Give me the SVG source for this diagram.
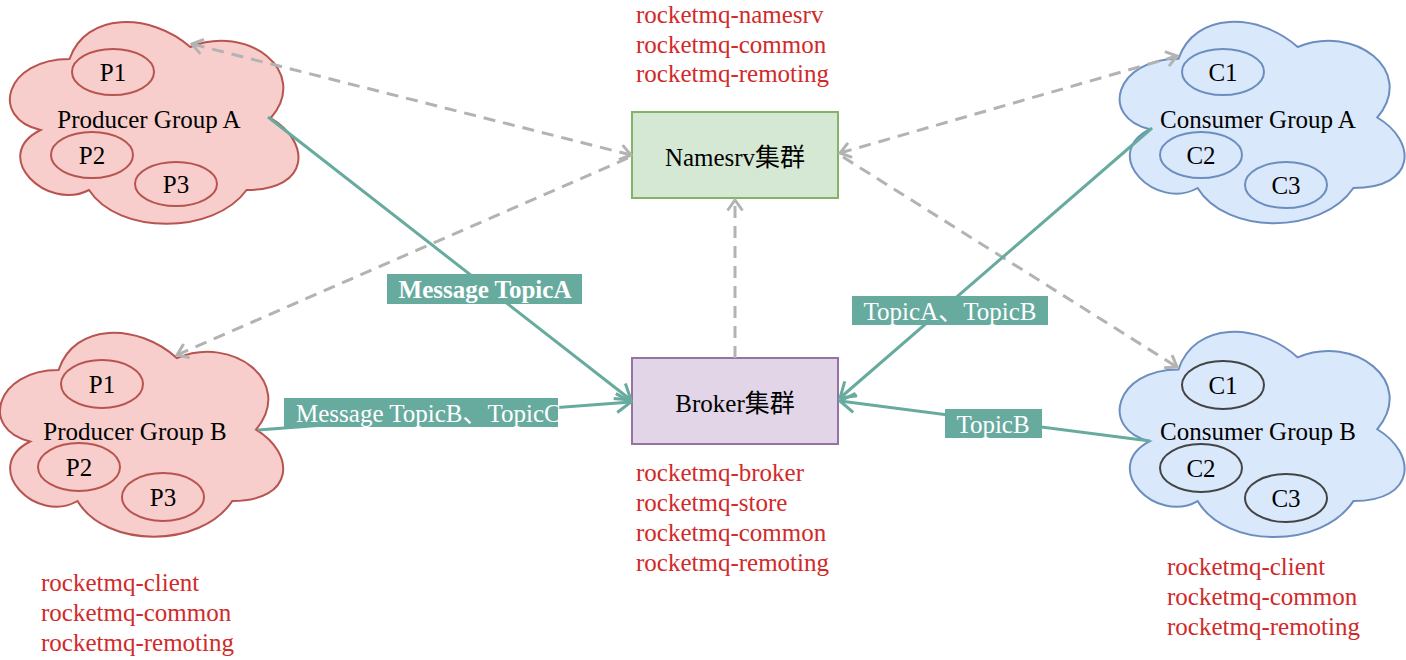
<svg xmlns="http://www.w3.org/2000/svg" width="1406" height="660" viewBox="0 0 1406 660">
<defs>
<style>
text{font-family:"Liberation Serif","Times New Roman",serif;font-size:25px}
.cjk{font-family:"Liberation Serif","Noto Sans CJK SC",serif}
.dk{fill:#000}
.red{fill:#d12a2a}
.pc{fill:#f8cecc;stroke:#b85450;stroke-width:2}
.pe{fill:none;stroke:#b85450;stroke-width:2}
.cc{fill:#dae8fc;stroke:#6c8ebf;stroke-width:2}
.ce{fill:none;stroke:#6c8ebf;stroke-width:2}
.ce2{fill:none;stroke:#444;stroke-width:2}
.teal{fill:none;stroke:#67ab9f;stroke-width:3}
.dash{fill:none;stroke:#b3b3b3;stroke-width:3;stroke-dasharray:12 8}
.lbl{fill:#67ab9f}
.lt{fill:#fff}
</style>
<marker id="at" viewBox="0 0 18 22" refX="16" refY="11" markerWidth="18" markerHeight="22" markerUnits="userSpaceOnUse" orient="auto-start-reverse">
<path d="M1.5,1.5 L16,11 L1.5,20.5" fill="none" stroke="#67ab9f" stroke-width="3"/>
</marker>
<marker id="ag" viewBox="0 0 14 18" refX="12" refY="9" markerWidth="14" markerHeight="18" markerUnits="userSpaceOnUse" orient="auto-start-reverse">
<path d="M1.5,1.5 L12,9 L1.5,16.5" fill="none" stroke="#b3b3b3" stroke-width="3"/>
</marker>
</defs>
<rect width="1406" height="660" fill="#fff"/>

<g id="producer-a">
<path class="pc" d="M69.5,59 C5,59 -11,118 40.5,130 C-11,156 47,212 89,190 C118,235 214,235 246.6,190 C311,190 311,142 270.8,118 C311,71 246.6,23.5 190.3,47 C150,12 85.6,12 69.5,59 Z"/>
<ellipse class="pe" cx="113" cy="72" rx="41" ry="23"/>
<ellipse class="pe" cx="92" cy="155" rx="41" ry="23"/>
<ellipse class="pe" cx="176" cy="184" rx="41" ry="22"/>
<text class="dk" x="113" y="81" text-anchor="middle">P1</text>
<text class="dk" x="92" y="164" text-anchor="middle">P2</text>
<text class="dk" x="176" y="193" text-anchor="middle">P3</text>
<text class="dk" x="149" y="128" text-anchor="middle">Producer Group A</text>
</g>

<g id="producer-b">
<path class="pc" transform="translate(-20.5,310.6) scale(316,238)" vector-effect="non-scaling-stroke" d="M0.25,0.25 C0.05,0.25 0,0.5 0.16,0.55 C0,0.66 0.18,0.9 0.31,0.8 C0.4,1 0.7,1 0.8,0.8 C1,0.8 1,0.6 0.875,0.5 C1,0.3 0.8,0.1 0.625,0.2 C0.5,0.05 0.3,0.05 0.25,0.25 Z"/>
<ellipse class="pe" cx="102" cy="384" rx="41" ry="24"/>
<ellipse class="pe" cx="79" cy="467" rx="41" ry="24"/>
<ellipse class="pe" cx="163" cy="497" rx="41" ry="24"/>
<text class="dk" x="102" y="393" text-anchor="middle">P1</text>
<text class="dk" x="79" y="476" text-anchor="middle">P2</text>
<text class="dk" x="163" y="506" text-anchor="middle">P3</text>
<text class="dk" x="135" y="440" text-anchor="middle">Producer Group B</text>
</g>

<g id="consumer-a">
<path class="cc" transform="translate(1099,0) scale(318,235)" vector-effect="non-scaling-stroke" d="M0.25,0.25 C0.05,0.25 0,0.5 0.16,0.55 C0,0.66 0.18,0.9 0.31,0.8 C0.4,1 0.7,1 0.8,0.8 C1,0.8 1,0.6 0.875,0.5 C1,0.3 0.8,0.1 0.625,0.2 C0.5,0.05 0.3,0.05 0.25,0.25 Z"/>
<ellipse class="ce" cx="1223" cy="72" rx="41" ry="23"/>
<ellipse class="ce" cx="1201" cy="155" rx="41" ry="23"/>
<ellipse class="ce" cx="1286" cy="185" rx="41" ry="23"/>
<text class="dk" x="1223" y="81" text-anchor="middle">C1</text>
<text class="dk" x="1201" y="164" text-anchor="middle">C2</text>
<text class="dk" x="1286" y="194" text-anchor="middle">C3</text>
<text class="dk" x="1258" y="128" text-anchor="middle">Consumer Group A</text>
</g>

<g id="consumer-b">
<path class="cc" transform="translate(1099,309.5) scale(318,239.5)" vector-effect="non-scaling-stroke" d="M0.25,0.25 C0.05,0.25 0,0.5 0.16,0.55 C0,0.66 0.18,0.9 0.31,0.8 C0.4,1 0.7,1 0.8,0.8 C1,0.8 1,0.6 0.875,0.5 C1,0.3 0.8,0.1 0.625,0.2 C0.5,0.05 0.3,0.05 0.25,0.25 Z"/>
<ellipse class="ce2" cx="1223" cy="385" rx="41" ry="24"/>
<ellipse class="ce2" cx="1201" cy="468" rx="41" ry="24"/>
<ellipse class="ce2" cx="1286" cy="498" rx="41" ry="24"/>
<text class="dk" x="1223" y="394" text-anchor="middle">C1</text>
<text class="dk" x="1201" y="477" text-anchor="middle">C2</text>
<text class="dk" x="1286" y="507" text-anchor="middle">C3</text>
<text class="dk" x="1258" y="440" text-anchor="middle">Consumer Group B</text>
</g>

<g id="namesrv">
<rect x="632" y="112" width="206" height="86" fill="#d5e8d4" stroke="#82b366" stroke-width="2"/>
<text class="dk cjk" x="735" y="166" text-anchor="middle">Namesrv集群</text>
</g>

<g id="broker">
<rect x="632" y="358" width="206" height="86" fill="#e1d5e7" stroke="#9673a6" stroke-width="2"/>
<text class="dk cjk" x="735" y="412" text-anchor="middle">Broker集群</text>
</g>

<g id="connectors">
<line class="dash" x1="631" y1="155" x2="192" y2="44" marker-start="url(#ag)" marker-end="url(#ag)"/>
<line class="dash" x1="628" y1="158" x2="177" y2="355" marker-end="url(#ag)"/>
<line class="dash" x1="840" y1="153" x2="1177" y2="56" marker-start="url(#ag)" marker-end="url(#ag)"/>
<line class="dash" x1="843" y1="157" x2="1177" y2="367" marker-end="url(#ag)"/>
<line class="dash" x1="735" y1="358" x2="735" y2="200" marker-end="url(#ag)"/>
<line class="teal" x1="268" y1="117" x2="631" y2="400" marker-end="url(#at)"/>
<line class="teal" x1="258" y1="430" x2="631" y2="402" marker-end="url(#at)"/>
<line class="teal" x1="1152" y1="128" x2="840" y2="398" marker-end="url(#at)"/>
<line class="teal" x1="1150" y1="441" x2="840" y2="401" marker-end="url(#at)"/>
</g>

<g id="labels">
<rect class="lbl" x="387" y="274" width="195" height="30"/>
<text class="lt" x="485" y="298" text-anchor="middle" font-weight="bold">Message TopicA</text>
<rect class="lbl" x="284" y="398" width="274" height="29"/>
<text class="lt cjk" x="296" y="422">Message TopicB、TopicC</text>
<rect class="lbl" x="852" y="296" width="196" height="29"/>
<text class="lt cjk" x="950" y="320" text-anchor="middle">TopicA、TopicB</text>
<rect class="lbl" x="945" y="409" width="97" height="29"/>
<text class="lt" x="993" y="433" text-anchor="middle">TopicB</text>
</g>

<g id="notes">
<text class="red" x="636" y="23">rocketmq-namesrv</text>
<text class="red" x="636" y="53">rocketmq-common</text>
<text class="red" x="636" y="82">rocketmq-remoting</text>
<text class="red" x="636" y="481">rocketmq-broker</text>
<text class="red" x="636" y="511">rocketmq-store</text>
<text class="red" x="636" y="541">rocketmq-common</text>
<text class="red" x="636" y="571">rocketmq-remoting</text>
<text class="red" x="41" y="591">rocketmq-client</text>
<text class="red" x="41" y="621">rocketmq-common</text>
<text class="red" x="41" y="651">rocketmq-remoting</text>
<text class="red" x="1167" y="575">rocketmq-client</text>
<text class="red" x="1167" y="605">rocketmq-common</text>
<text class="red" x="1167" y="635">rocketmq-remoting</text>
</g>
</svg>
